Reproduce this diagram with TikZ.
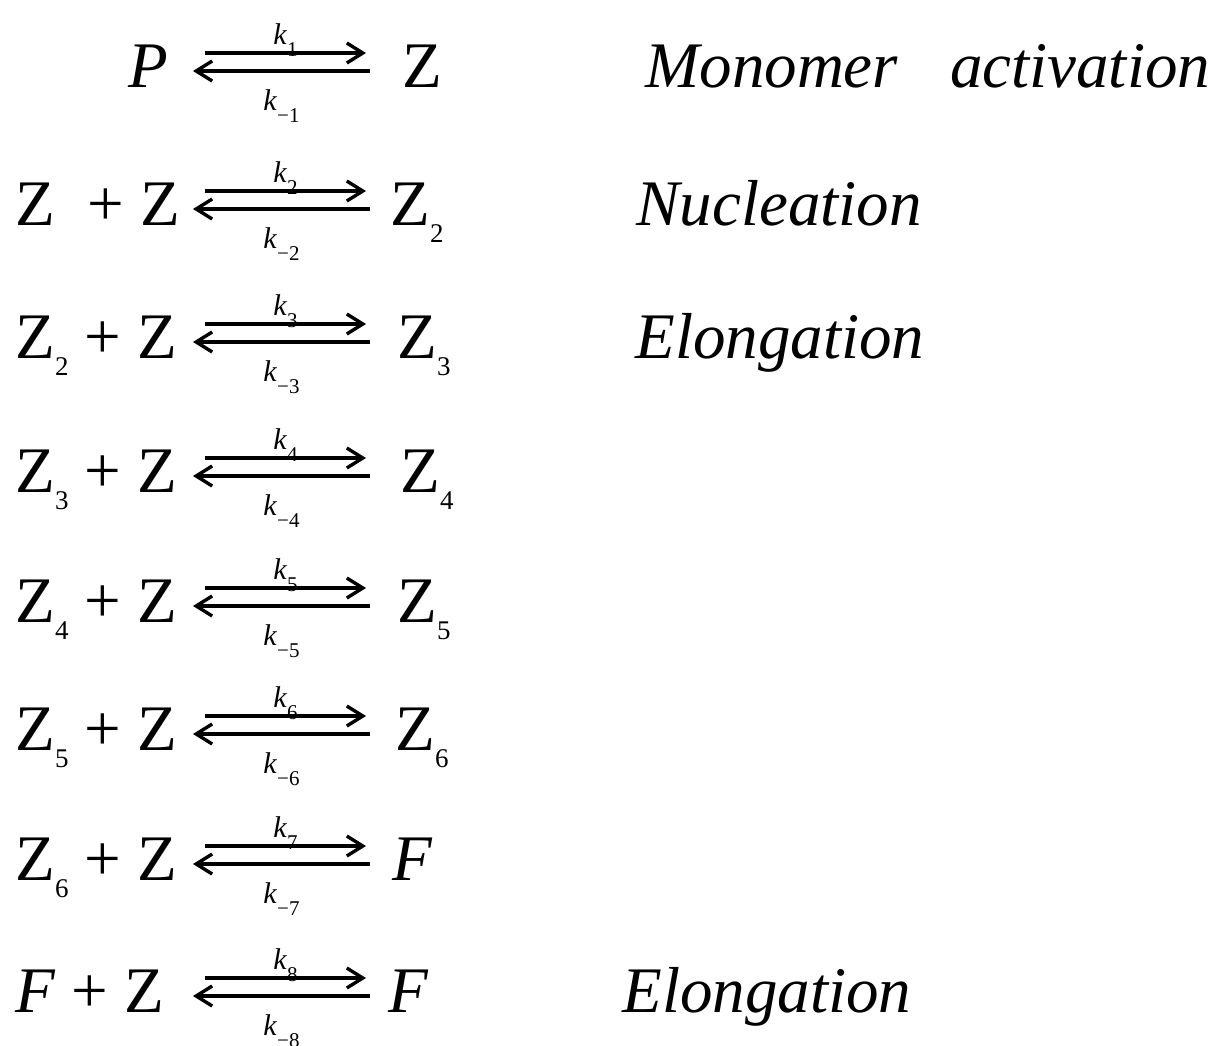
\documentclass[tikz,border=0pt]{standalone}
\usepackage{fontspec}
\setmainfont{Liberation Serif}
\usetikzlibrary{arrows.meta}
\newcommand{\zsub}[1]{\raisebox{-8.5pt}{\fontsize{13.5}{13.5}\selectfont #1}}
\newcommand{\ksub}[1]{\raisebox{-6pt}{\fontsize{10.5}{10.5}\selectfont #1}}

\begin{document}
\begin{tikzpicture}[
    x=0.5pt, y=-0.5pt,
    species/.style={font=\fontsize{32.5}{39}\selectfont, inner sep=0pt,
        text height=25pt, text depth=0pt, anchor=base west},
    stage/.style={font=\fontsize{32.5}{39}\selectfont\itshape, inner sep=0pt,
        anchor=base west},
    rate/.style={font=\fontsize{15}{18}\selectfont, inner sep=0pt, anchor=base},
    fwd/.style={-{Straight Barb[length=8pt, width=10pt]}, line width=1.7pt},
    bwd/.style={{Straight Barb[length=8pt, width=10pt]}-, line width=1.7pt}
]
\useasboundingbox (0, 0) rectangle (1220, 1045);

% ===== Reaction column =====
% ends of the forward and backward arrows
\coordinate (fa) at (205, 0);
\coordinate (fb) at (366, 0);
\coordinate (ba) at (193, 0);
\coordinate (bb) at (370, 0);

% left-hand sides
\node[species] (lhs1) at (128, 87) {\itshape P};
\node[species] (lhs2) at (15, 225) {Z\hspace{0.5em}+ Z};
\foreach \i/\y in {3/358, 4/492, 5/622, 6/750, 7/880} {
    \pgfmathtruncatemacro{\j}{\i - 1}
    \node[species] (lhs\i) at (15, \y) {Z\zsub{\j} + Z};
}
\node[species] (lhs8) at (15, 1012) {{\itshape F} + Z};

% right-hand sides
\node[species] (rhs1) at (402, 87) {Z};
\foreach \i/\x/\y in {2/390/225, 3/397/358, 4/400/492, 5/397/622, 6/395/750}
    \node[species] (rhs\i) at (\x, \y) {Z\zsub{\i}};
\node[species] (rhs7) at (392, 880) {\itshape F};
\node[species] (rhs8) at (388, 1012) {\itshape F};

% reversible arrows with rate constants
\foreach \i in {1, ..., 8} {
    \draw[fwd] ([yshift=4.5pt]lhs\i.east -| fa) -- ([yshift=4.5pt]rhs\i.west -| fb)
        node[rate, midway, yshift=4.5pt] {\textit{k}\ksub{\i}};
    \draw[bwd] ([yshift=-4.5pt]lhs\i.east -| ba) -- ([yshift=-4.5pt]rhs\i.west -| bb)
        node[rate, midway, yshift=-19.5pt] {\textit{k}\ksub{−\i}};
}

% ===== Stage names =====
\node[stage] (activation) at (645, 87) {Monomer\hspace{0.8em}activation};
\node[stage] (nucleation) at (636, 225) {Nucleation};
\node[stage] (elongation) at (635, 358) {Elongation};
\node[stage] (elongationF) at (622, 1012) {Elongation};

\end{tikzpicture}
\end{document}
